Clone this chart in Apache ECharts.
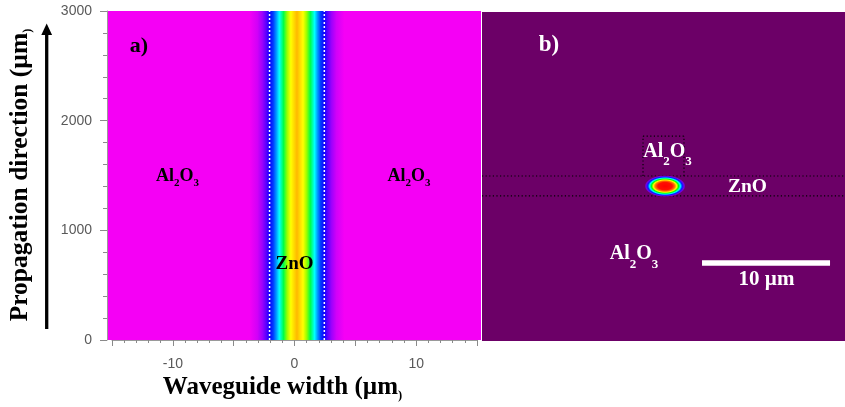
<!DOCTYPE html>
<html><head><meta charset="utf-8">
<script src="https://cdn.jsdelivr.net/npm/echarts@6/dist/echarts.min.js"></script>
<style>html,body{margin:0;padding:0;background:#fff;}#c{width:845px;height:407px;}</style>
</head><body><div id="c"></div>
<script>
// ---------------- data ----------------
// panel a) : beam propagation (top view)
const xTickLabels = [-10, 0, 10];              // µm
const yTickLabels = [0, 1000, 2000, 3000];     // µm
const panelAWidth = [-15.33, 15.33];           // simulation window, µm
const panelALength = [0, 3000];                // propagation length, µm
const coreEdges = [-2.05, 2.45];               // ZnO core boundaries (white dotted)
const beamX = [-3.7, -3.05, -2.65, -2.3, -2.05, -1.75, -1.5, -1.25, -0.9, -0.6, -0.3, 0.2,
               0.7, 1.0, 1.3, 1.65, 1.9, 2.15, 2.45, 2.7, 3.05, 3.45, 4.1];
const beamI = [0, 0.04, 0.10, 0.17, 0.24, 0.29, 0.35, 0.42, 0.52, 0.62, 0.70, 0.79,
               0.70, 0.62, 0.52, 0.42, 0.35, 0.29, 0.24, 0.17, 0.10, 0.04, 0];
// panel b) : guided mode cross-section
const panelBWidth = [0, 28.36];                // µm
const panelBHeight = [0, 25.7];                // µm
const znoLayerY = [11.33, 12.89];              // ZnO layer boundaries
const ridgeX = [12.58, 15.78];                 // ridge (dotted box) sides
const ridgeTopY = 16.0;
const modeCenter = [14.3, 12.1];
const modeSemiAxes = [1.6, 0.84];
const modeR = [0, 0.35, 0.48, 0.57, 0.66, 0.75, 0.84, 0.93, 1];
const modeI = [1, 0.98, 0.86, 0.70, 0.55, 0.42, 0.27, 0.12, 0];
const scaleBarX = [17.19, 27.19];              // 10 µm
const scaleBarY = 6.1;

// ---------------- colour scales ----------------
const cmapA = [[0,'#f500f5'],[0.12,'#8c00ff'],[0.25,'#0000ff'],[0.42,'#00ffff'],[0.53,'#00ff33'],
               [0.62,'#99ff00'],[0.70,'#ffff00'],[0.80,'#ffb000'],[1,'#ff0000']];
const cmapB = [[0,'#6c0067'],[0.12,'#7a00e8'],[0.25,'#0000ff'],[0.42,'#00ffff'],[0.55,'#00ff00'],
               [0.70,'#ffff00'],[0.85,'#ff8000'],[1,'#ff0000']];
function hexRgb(h){return [parseInt(h.substr(1,2),16),parseInt(h.substr(3,2),16),parseInt(h.substr(5,2),16)];}
function cmap(stops, v){
  for (let i=1;i<stops.length;i++){
    if (v <= stops[i][0]){
      const a=stops[i-1], b=stops[i], t=(v-a[0])/(b[0]-a[0]);
      const ca=hexRgb(a[1]), cb=hexRgb(b[1]);
      return 'rgb('+ca.map((c,k)=>Math.round(c+(cb[k]-c)*t)).join(',')+')';
    }
  }
  return stops[stops.length-1][1];
}

const SERIF = 'Liberation Serif';
const SANS = 'Liberation Sans';
const tickColor = '#8a8a8a';
const labelColor = '#595959';

function dottedLine(xi, yi, pts, color, width, dash, z){
  return {type:'line', xAxisIndex:xi, yAxisIndex:yi, data:pts, symbol:'none', silent:true, z:z,
          lineStyle:{color:color, width:width, type:dash}, animation:false};
}
// chemical formula with subscripts, main text centred on the anchor
function formula(parts, size, subSize, drop){
  return {text: parts.map((p,i)=> (i%2 ? '{s|'+p+'}' : '{m|'+p+'}')).join(''),
          rich:{m:{fontFamily:SERIF, fontWeight:'bold', fontSize:size, verticalAlign:'middle'},
                s:{fontFamily:SERIF, fontWeight:'bold', fontSize:subSize, lineHeight:2*drop+subSize, verticalAlign:'bottom'}}};
}
function textEl(x, y, f, fill, rot){
  const el = {type:'text', x:x, y:y, z:100,
    style:Object.assign({align:'center', verticalAlign:'middle', fill:fill}, f)};
  if (rot) el.rotation = rot;
  return el;
}
function plain(t, size){ return {text:t, fontFamily:SERIF, fontWeight:'bold', fontSize:size}; }

const chart = echarts.init(document.getElementById('c'));
const option = {
  animation:false,
  backgroundColor:'#ffffff',
  grid:[
    {left:112, top:11, width:365, height:329, show:false},
    {left:482, top:12, width:363, height:329, show:true, backgroundColor:'#6c0067', borderWidth:0}
  ],
  xAxis:[
    {gridIndex:0, type:'value', min:-15, max:15, interval:5, position:'bottom',
     axisLine:{show:true, onZero:false, lineStyle:{color:'#9a9a9a'}},
     axisTick:{show:true, length:6, lineStyle:{color:tickColor}},
     minorTick:{show:true, splitNumber:5, length:3, lineStyle:{color:tickColor}},
     splitLine:{show:false}, minorSplitLine:{show:false},
     axisLabel:{margin:17, color:labelColor, fontFamily:SANS, fontSize:14,
                formatter:v => xTickLabels.indexOf(v) >= 0 ? String(v) : ''}},
    {gridIndex:0, type:'value', min:-15, max:15, position:'top',
     axisLine:{show:true, onZero:false, lineStyle:{color:'#c8c8c8'}},
     axisTick:{show:false}, axisLabel:{show:false}, splitLine:{show:false}},
    {gridIndex:1, type:'value', min:panelBWidth[0], max:panelBWidth[1], show:false}
  ],
  yAxis:[
    {gridIndex:0, type:'value', min:panelALength[0], max:panelALength[1], interval:1000, offset:5,
     axisLine:{show:true, onZero:false, lineStyle:{color:'#9a9a9a'}},
     axisTick:{show:true, length:7, lineStyle:{color:tickColor}},
     minorTick:{show:true, splitNumber:5, length:4, lineStyle:{color:tickColor}},
     splitLine:{show:false}, minorSplitLine:{show:false},
     axisLabel:{margin:15, color:labelColor, fontFamily:SANS, fontSize:14,
                formatter:v => yTickLabels.indexOf(v) >= 0 ? String(v) : ''}},
    {gridIndex:1, type:'value', min:panelBHeight[0], max:panelBHeight[1], show:false}
  ],
  series:[
    // beam intensity map of panel a)
    {type:'custom', xAxisIndex:0, yAxisIndex:0, clip:false, silent:true, z:1,
     data:[[panelAWidth[0], panelAWidth[1], panelALength[0], panelALength[1]]],
     encode:{x:[0,1], y:[2,3]},
     renderItem:function(params, api){
       const x0=api.value(0), x1=api.value(1);
       const p0=api.coord([x0, api.value(3)]), p1=api.coord([x1, api.value(2)]);
       const stops=[{offset:0, color:cmap(cmapA,0)}];
       beamX.forEach((x,i)=>stops.push({offset:(x-x0)/(x1-x0), color:cmap(cmapA, beamI[i])}));
       stops.push({offset:1, color:cmap(cmapA,0)});
       return {type:'rect', shape:{x:p0[0], y:p0[1], width:p1[0]-p0[0], height:p1[1]-p0[1]},
               style:{fill:new echarts.graphic.LinearGradient(0,0,1,0,stops)}};
     }},
    dottedLine(0,0,[[coreEdges[0],panelALength[0]],[coreEdges[0],panelALength[1]]],'#ffffff',1.5,[2,2],5),
    dottedLine(0,0,[[coreEdges[1],panelALength[0]],[coreEdges[1],panelALength[1]]],'#ffffff',1.5,[2,2],5),
    // panel b)
    dottedLine(2,1,[[panelBWidth[0],znoLayerY[1]],[panelBWidth[1],znoLayerY[1]]],'#000000',1.2,[1.2,2.4],5),
    dottedLine(2,1,[[panelBWidth[0],znoLayerY[0]],[panelBWidth[1],znoLayerY[0]]],'#000000',1.2,[1.2,2.4],5),
    dottedLine(2,1,[[ridgeX[0],znoLayerY[1]],[ridgeX[0],ridgeTopY]],'#000000',1.2,[1.2,2.4],5),
    dottedLine(2,1,[[ridgeX[1],znoLayerY[1]],[ridgeX[1],ridgeTopY]],'#000000',1.2,[1.2,2.4],5),
    dottedLine(2,1,[[ridgeX[0],ridgeTopY],[ridgeX[1],ridgeTopY]],'#000000',1.2,[1.2,2.4],5),
    {type:'custom', xAxisIndex:2, yAxisIndex:1, silent:true, z:6,
     data:[[modeCenter[0], modeCenter[1], modeSemiAxes[0], modeSemiAxes[1]]],
     renderItem:function(params, api){
       const c=api.coord([api.value(0), api.value(1)]);
       const s=api.size([api.value(2), api.value(3)]);
       const stops=modeR.map((r,i)=>({offset:r, color:cmap(cmapB, modeI[i])}));
       return {type:'circle', x:c[0], y:c[1], scaleX:s[0]/s[1], scaleY:1,
               shape:{cx:0, cy:0, r:s[1]},
               style:{fill:new echarts.graphic.RadialGradient(0.5,0.5,0.5,stops)}};
     }},
    {type:'line', xAxisIndex:2, yAxisIndex:1, symbol:'none', silent:true, z:6,
     data:[[scaleBarX[0],scaleBarY],[scaleBarX[1],scaleBarY]],
     lineStyle:{color:'#ffffff', width:5.5, cap:'butt'}}
  ],
  graphic:[
    // axis arrow
    {type:'line', shape:{x1:46.7, y1:329, x2:46.7, y2:33}, style:{stroke:'#000', lineWidth:3.3}, z:100},
    {type:'polygon', shape:{points:[[41.3,35],[52.1,35],[46.7,23.5]]}, style:{fill:'#000'}, z:100},
    // axis titles
    textEl(282.5, 388, formula(['Waveguide width (µm', ')'], 25, 12.5, 8), '#000'),
    textEl(20.5, 175, formula(['Propagation direction (µm', ')'], 25.5, 12.5, 8), '#000', Math.PI/2),
    // panel a) labels
    textEl(139, 46, plain('a)', 22), '#000'),
    textEl(177.5, 176, formula(['Al','2','O','3'], 18, 11, 7), '#000'),
    textEl(409, 176, formula(['Al','2','O','3'], 18, 11, 7), '#000'),
    textEl(294.5, 264.5, plain('ZnO', 19), '#000'),
    // panel b) labels
    textEl(549, 45.5, plain('b)', 23), '#fff'),
    textEl(667.5, 151.5, formula(['Al','2','O','3'], 20, 13, 10.5), '#fff'),
    textEl(747.5, 186.5, plain('ZnO', 19.5), '#fff'),
    textEl(634, 254, formula(['Al','2','O','3'], 20, 13, 10.5), '#fff'),
    textEl(766.5, 279.6, plain('10 µm', 21), '#fff')
  ]
};
chart.setOption(option);
</script>
</body></html>
